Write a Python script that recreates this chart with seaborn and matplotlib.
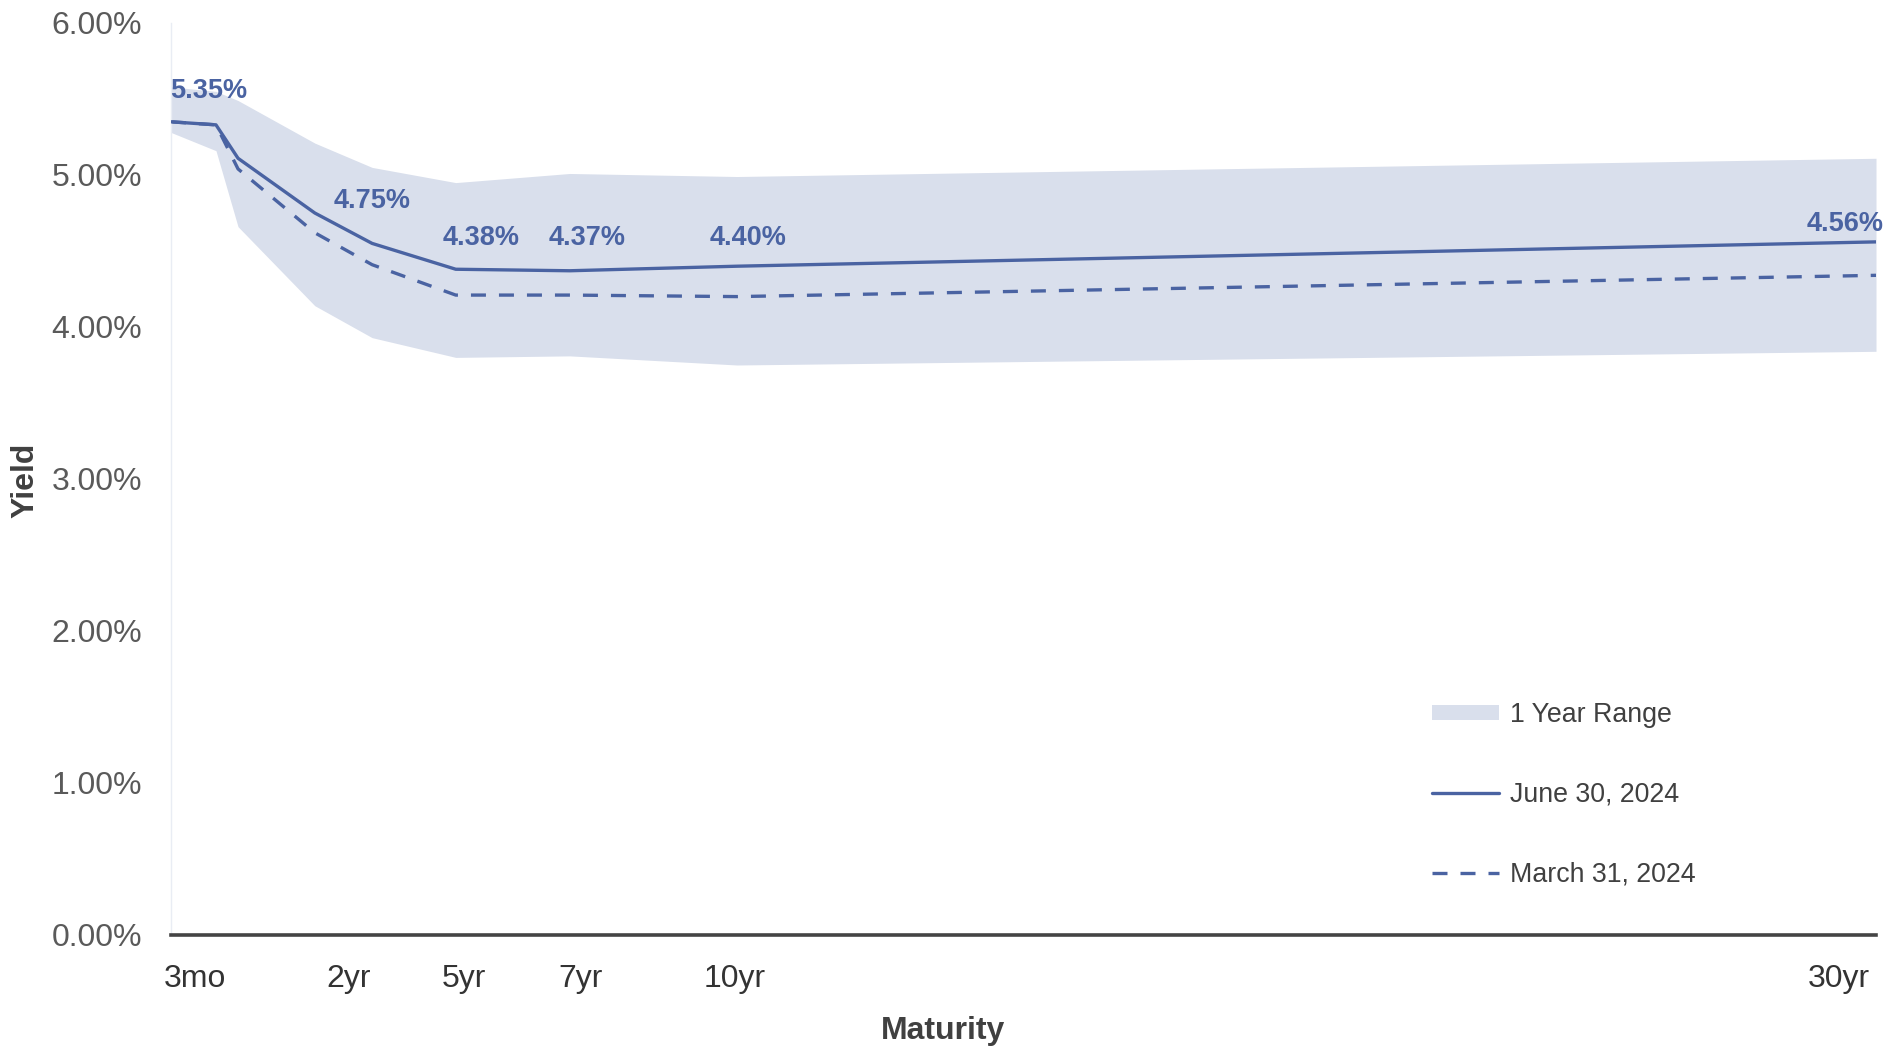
import numpy as np
import pandas as pd
import matplotlib
matplotlib.use("Agg")
import matplotlib.pyplot as plt
import seaborn as sns
from matplotlib.patches import Patch
from matplotlib.lines import Line2D
from matplotlib.transforms import ScaledTranslation
from matplotlib.ticker import FixedLocator, FixedFormatter, FuncFormatter

# ---- data -------------------------------------------------------------
maturity_years = [0.25, 0.5, 1, 2, 3, 5, 7, 10, 30]
maturity_names = ["3mo", "6mo", "1yr", "2yr", "3yr", "5yr", "7yr", "10yr", "30yr"]
yield_jun_2024 = [5.35, 5.33, 5.11, 4.75, 4.55, 4.38, 4.37, 4.40, 4.56]
yield_mar_2024 = [5.35, 5.33, 5.04, 4.62, 4.41, 4.21, 4.21, 4.20, 4.34]
range_high = [5.58, 5.55, 5.49, 5.21, 5.05, 4.95, 5.01, 4.99, 5.11]
range_low = [5.28, 5.16, 4.66, 4.14, 3.93, 3.80, 3.81, 3.75, 3.84]

tick_names = ["3mo", "2yr", "5yr", "7yr", "10yr", "30yr"]
labelled_names = ["3mo", "2yr", "5yr", "7yr", "10yr", "30yr"]

# x-axis spacing: the short end of the curve is widened a little
axis_knot_years = [0.25, 0.5, 1, 2, 3, 5, 7, 10, 30]
axis_knot_units = [0.0, 0.785, 1.17, 2.51, 3.51, 4.97, 6.96, 9.88, 29.76]

# text nudges (points) for the tick labels and the value labels
tick_nudge = [17, 24, 6, 8, -2, -27]
value_nudge = [(27, 22), (41, 8.5), (18, 22.5), (12.5, 23.5), (8, 20.5), (-22, 13)]

df = pd.DataFrame({
    "maturity": maturity_years,
    "name": maturity_names,
    "jun": yield_jun_2024,
    "mar": yield_mar_2024,
    "hi": range_high,
    "lo": range_low,
})

# ---- style ------------------------------------------------------------
LINE = "#4a63a2"
BAND = "#d9dfec"

sns.set_theme(style="white")
plt.rcParams["font.family"] = ["Liberation Sans", "DejaVu Sans"]

fig = plt.figure(figsize=(19.02, 10.47), dpi=100)
ax = fig.add_axes([171 / 1902, 112 / 1047, 1705 / 1902, 912 / 1047])

kx = np.array([-10.0] + axis_knot_years + [130.0])
ku = np.array([-10.25] + axis_knot_units + [129.76])


def fwd(x):
    return np.interp(x, kx, ku)


def inv(u):
    return np.interp(u, ku, kx)


ax.set_xscale("function", functions=(fwd, inv))

# one-year range band
ax.fill_between(df["maturity"], df["lo"], df["hi"], color=BAND, lw=0, zorder=1)

# curves
sns.lineplot(data=df, x="maturity", y="jun", ax=ax, color=LINE, lw=2.4,
             zorder=3, sort=False)
sns.lineplot(data=df, x="maturity", y="mar", ax=ax, color=LINE, lw=2.4,
             zorder=2, sort=False)
dash_line = ax.get_lines()[-1]
dash_line.set_dashes((4.5, 3.9))

# value labels on the current curve
lab = df[df["name"].isin(labelled_names)].reset_index(drop=True)
for i, row in lab.iterrows():
    dx, dy = value_nudge[i]
    ax.annotate(f"{row['jun']:.2f}%", (row["maturity"], row["jun"]),
                xytext=(dx, dy), textcoords="offset points",
                ha="center", va="center", fontsize=19.5, fontweight="bold",
                color=LINE, zorder=5, annotation_clip=False)

# axes
ax.set_xlim(0.25, 30)
ax.set_ylim(0, 6)
ax.yaxis.set_major_locator(FixedLocator(np.arange(0, 7, 1)))
ax.yaxis.set_major_formatter(FuncFormatter(lambda v, _: f"{v:.2f}%"))

tick_pos = [df.loc[df["name"] == n, "maturity"].item() for n in tick_names]
ax.xaxis.set_major_locator(FixedLocator(tick_pos))
ax.xaxis.set_major_formatter(FixedFormatter(tick_names))
ax.tick_params(axis="x", length=0, pad=21, labelsize=23, labelcolor="#333333")
ax.tick_params(axis="y", length=0, pad=21, labelsize=23, labelcolor="#5a5a5a")
for lbl, dx in zip(ax.get_xticklabels(), tick_nudge):
    lbl.set_transform(lbl.get_transform()
                      + ScaledTranslation(dx / 72, 0, fig.dpi_scale_trans))

for s in ("top", "right"):
    ax.spines[s].set_visible(False)
ax.spines["left"].set_color("#e9edf4")
ax.spines["left"].set_linewidth(1.0)
ax.spines["bottom"].set_color("#444444")
ax.spines["bottom"].set_linewidth(2.6)
ax.spines["bottom"].set_zorder(6)

ax.set_xlabel("Maturity", fontsize=23, fontweight="bold", color="#404040")
ax.set_ylabel("Yield", fontsize=23, fontweight="bold", color="#404040")
ax.xaxis.set_label_coords(0.453, -0.0885)
ax.yaxis.set_label_coords(-0.0768, 0.499)

handles = [
    Patch(facecolor=BAND, edgecolor="none"),
    Line2D([0], [0], color=LINE, lw=2.4),
    Line2D([0], [0], color=LINE, lw=2.4, dashes=(4.5, 3.9)),
]
leg = ax.legend(handles, ["1 Year Range", "June 30, 2024", "March 31, 2024"],
                loc="center left", bbox_to_anchor=(0.7396, 0.154),
                frameon=False, fontsize=19.3, handlelength=2.5,
                handletextpad=0.4, labelspacing=2.0, borderpad=0,
                borderaxespad=0, handleheight=0.5)
for t in leg.get_texts():
    t.set_color("#404040")

fig.savefig("out.png", dpi=100, facecolor="white")
